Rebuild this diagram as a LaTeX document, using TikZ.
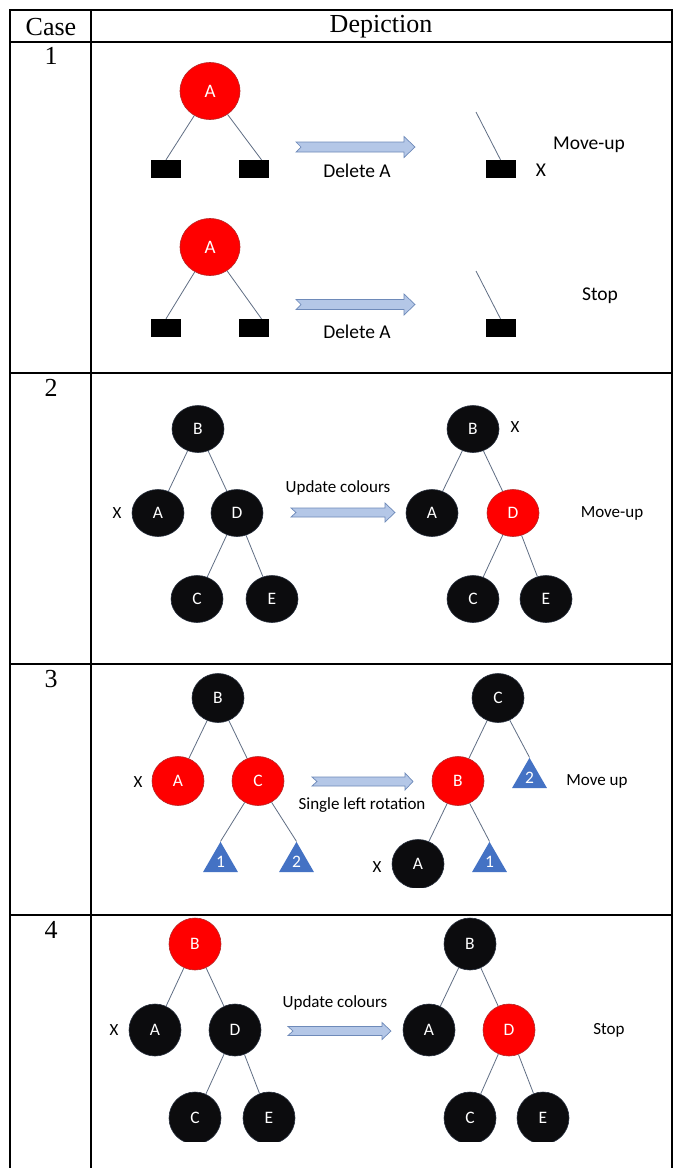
\documentclass[tikz,border=0pt]{standalone}
\usepackage{fontspec}
\setmainfont{Liberation Serif}
\newfontfamily\sansfam{Carlito}
\usetikzlibrary{shapes.geometric}

\definecolor{rbred}{RGB}{255,0,0}
\definecolor{rbredline}{RGB}{180,40,40}
\definecolor{rbblack}{RGB}{12,12,14}
\definecolor{rbblackline}{RGB}{40,48,62}
\definecolor{linkgrey}{RGB}{96,110,132}
\definecolor{arrowfill}{RGB}{180,199,231}
\definecolor{arrowline}{RGB}{110,138,185}
\definecolor{subblue}{RGB}{68,114,196}

\tikzset{
  grid/.style={line width=2pt, line cap=rect},
  headtxt/.style={font=\fontsize{26}{26}\selectfont, inner sep=0pt},
  rbnode/.style={ellipse, inner sep=0pt, text=white, line width=0.6pt,
    font=\sansfam\fontsize{17.5}{17.5}\selectfont},
  rednode/.style={rbnode, fill=rbred, draw=rbredline},
  blacknode/.style={rbnode, fill=rbblack, draw=rbblackline},
  bigsize/.style={minimum width=60pt, minimum height=57pt,
    font=\sansfam\fontsize{19}{19}\selectfont},
  sizetwo/.style={minimum width=52pt, minimum height=47pt},
  sizethree/.style={minimum width=52pt, minimum height=49pt},
  sizefour/.style={minimum width=52pt, minimum height=52pt},
  leaf/.style={rectangle, fill=black, inner sep=0pt, minimum width=30pt, minimum height=18pt},
  link/.style={draw=linkgrey, line width=0.8pt},
  subtree/.style={regular polygon, regular polygon sides=3, minimum size=40.4pt,
    inner sep=0pt, fill=subblue, text=white, font=\sansfam\fontsize{17.5}{17.5}\selectfont},
  lbl/.style={inner sep=0pt, font=\sansfam\fontsize{17}{17}\selectfont},
  biglbl/.style={inner sep=0pt, font=\sansfam\fontsize{19.5}{19.5}\selectfont},
  blockarrow/.style={fill=arrowfill, draw=arrowline, line width=0.7pt, line join=miter},
}

% notched block arrow: x0, x1, y, shaft half height, head half height, head length
\newcommand\notchedarrow[6]{%
  \draw[blockarrow] (#1,#3-#4) -- (#2-#6,#3-#4) -- (#2-#6,#3-#5) -- (#2,#3)
    -- (#2-#6,#3+#5) -- (#2-#6,#3+#4) -- (#1,#3+#4) -- (#1+5,#3) -- cycle;}

\begin{document}
\begin{tikzpicture}[x=1pt, y=-1pt]
\fill[white] (0,0) rectangle (676,1168);
\useasboundingbox (0,0) rectangle (676,1168);

% ---------- table frame ----------
\foreach \yy in {10,42,373,664,915} \draw[grid] (10,\yy) -- (672,\yy);
\foreach \xx in {10,91,672} \draw[grid] (\xx,10) -- (\xx,1168);

\node[headtxt] (hcase) at (51,27) {Case};
\node[headtxt] (hdep) at (381,27) {Depiction};
\node[headtxt] (n1) at (51,56) {1};
\node[headtxt] (n2) at (51,388) {2};
\node[headtxt] (n3) at (51,679) {3};
\node[headtxt] (n4) at (51,930) {4};

% ---------- case 1, upper ----------
\node[rednode, bigsize] (a1) at (210,91) {A};
\node[leaf] (l1) at (166,169) {};
\node[leaf] (r1) at (253.5,169) {};
\draw[link] (a1) -- (l1.north);
\draw[link] (a1) -- ([xshift=8pt]r1.north);
\notchedarrow{296}{415}{147}{5}{10.5}{11}
\node[biglbl] (del1) at (357,171) {Delete A};
\coordinate (top1) at (476,112);
\node[leaf] (m1) at (500.5,169) {};
\draw[link] (top1) -- (m1.north);
\node[biglbl] (x1) at (541,170) {X};
\node[biglbl] (mu1) at (589,145) {Move-up};

% ---------- case 1, lower ----------
\node[rednode, bigsize] (a2) at (210,247) {A};
\node[leaf] (l2) at (166,328) {};
\node[leaf] (r2) at (253.5,328) {};
\draw[link] (a2) -- (l2.north);
\draw[link] (a2) -- ([xshift=8pt]r2.north);
\notchedarrow{296}{415}{304.5}{5}{10.5}{11}
\node[biglbl] (del2) at (357,332) {Delete A};
\coordinate (top2) at (476,271);
\node[leaf] (m2) at (500.5,328) {};
\draw[link] (top2) -- (m2.north);
\node[biglbl] (st1) at (600,296) {Stop};

% ---------- case 2 ----------
\begin{scope}[every node/.append style={sizetwo}]
\node[blacknode] (c2b) at (198,429) {B};
\node[blacknode] (c2a) at (158,513) {A};
\node[blacknode] (c2d) at (237,513) {D};
\node[blacknode] (c2c) at (197,599) {C};
\node[blacknode] (c2e) at (272,599) {E};
\node[blacknode] (d2b) at (473,429) {B};
\node[blacknode] (d2a) at (432,513) {A};
\node[rednode]   (d2d) at (513,513) {D};
\node[blacknode] (d2c) at (473,599) {C};
\node[blacknode] (d2e) at (546,599) {E};
\end{scope}
\draw[link] (c2b) -- (c2a);
\draw[link] (c2b) -- (c2d);
\draw[link] (c2d) -- (c2c);
\draw[link] (c2d) -- (c2e);
\draw[link] (d2b) -- (d2a);
\draw[link] (d2b) -- (d2d);
\draw[link] (d2d) -- (d2c);
\draw[link] (d2d) -- (d2e);
\node[lbl] (x2) at (117,513) {X};
\node[lbl] (x2r) at (515,427) {X};
\notchedarrow{291}{395}{512.5}{4.5}{9.5}{10}
\node[lbl] (up2) at (338,488) {Update colours};
\node[lbl] (mu2) at (612,513) {Move-up};

% ---------- case 3 ----------
\begin{scope}[every node/.append style={sizethree}]
\node[blacknode] (c3b) at (218,698) {B};
\node[rednode]   (c3a) at (178,781) {A};
\node[rednode]   (c3c) at (258,781) {C};
\node[blacknode] (d3c) at (498,698) {C};
\node[rednode]   (d3b) at (458,781) {B};
\end{scope}
\begin{scope}
\clip (0,0) rectangle (676,887);
\node[blacknode, sizethree] (d3a) at (418,864) {A};
\end{scope}
\node[subtree] (c3t1) at (220.5,862) {1};
\node[subtree] (c3t2) at (296.5,862) {2};
\node[subtree] (d3t2) at (529.5,778) {2};
\node[subtree] (d3t1) at (489.5,862) {1};
\draw[link] (c3b) -- (c3a);
\draw[link] (c3b) -- (c3c);
\draw[link] (c3c) -- (c3t1.corner 1);
\draw[link] (c3c) -- (c3t2.corner 1);
\draw[link] (d3c) -- (d3b);
\draw[link] (d3c) -- (d3t2.corner 1);
\draw[link] (d3b) -- (d3a);
\draw[link] (d3b) -- (d3t1.corner 1);
\node[lbl] (x3) at (138,782) {X};
\node[lbl] (x3r) at (377,867) {X};
\notchedarrow{312}{413}{781.5}{4.5}{8.5}{8}
\node[lbl] (rot3) at (362,805) {Single left rotation};
\node[lbl] (mu3) at (597,781) {Move up};

% ---------- case 4 ----------
\begin{scope}
\clip (0,0) rectangle (676,1141);
\begin{scope}[every node/.append style={sizefour}]
\node[rednode]   (c4b) at (195,944) {B};
\node[blacknode] (c4a) at (155,1030) {A};
\node[blacknode] (c4d) at (235,1030) {D};
\node[blacknode] (c4c) at (195,1118) {C};
\node[blacknode] (c4e) at (269,1118) {E};
\node[blacknode] (d4b) at (470,944) {B};
\node[blacknode] (d4a) at (429,1030) {A};
\node[rednode]   (d4d) at (509,1030) {D};
\node[blacknode] (d4c) at (470,1118) {C};
\node[blacknode] (d4e) at (543,1118) {E};
\end{scope}
\end{scope}
\draw[link] (c4b) -- (c4a);
\draw[link] (c4b) -- (c4d);
\draw[link] (c4d) -- (c4c);
\draw[link] (c4d) -- (c4e);
\draw[link] (d4b) -- (d4a);
\draw[link] (d4b) -- (d4d);
\draw[link] (d4d) -- (d4c);
\draw[link] (d4d) -- (d4e);
\node[lbl] (x4) at (114,1030) {X};
\notchedarrow{288}{391}{1031}{4.5}{8.5}{9}
\node[lbl] (up4) at (335,1003) {Update colours};
\node[lbl] (st4) at (609,1030) {Stop};
\end{tikzpicture}
\end{document}
